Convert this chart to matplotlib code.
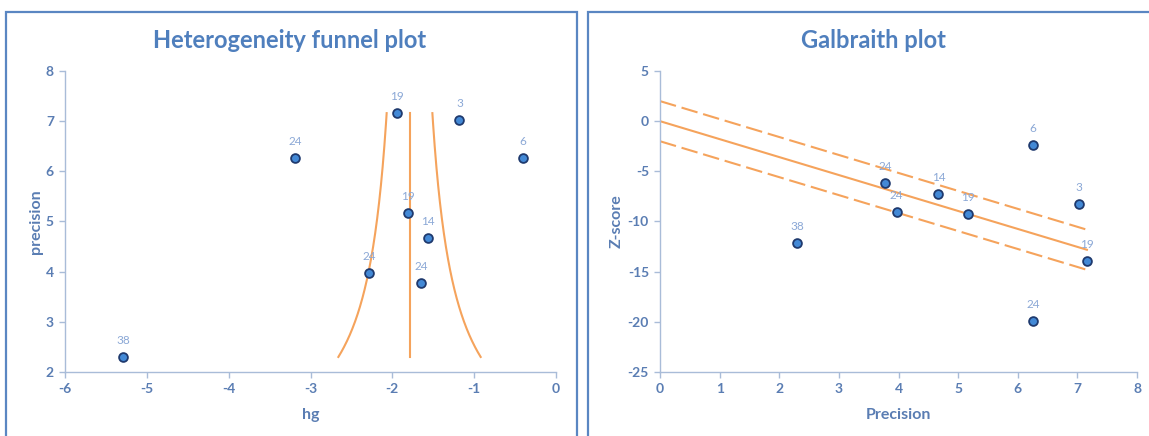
import numpy as np
import matplotlib
matplotlib.use("Agg")
import matplotlib.pyplot as plt
from matplotlib.patches import Rectangle

plt.rcParams['font.family'] = ['Lato', 'DejaVu Sans']
plt.rcParams['axes.unicode_minus'] = False

# ---- data ----
labels = ["38", "24", "19", "3", "6", "19", "14", "24", "24"]
hg = [-5.29, -3.19, -1.94, -1.18, -0.40, -1.81, -1.56, -2.28, -1.65]
precision = [2.30, 6.26, 7.16, 7.02, 6.26, 5.17, 4.67, 3.97, 3.77]
zscore = [-12.15, -19.95, -13.9, -8.3, -2.4, -9.3, -7.25, -9.05, -6.2]

pooled = -1.79      # pooled estimate (slope of Galbraith line)
zcrit = 2.0         # band half-width
prec_range = (2.30, 7.16)

left_xticks = [-6, -5, -4, -3, -2, -1, 0]
left_yticks = [2, 3, 4, 5, 6, 7, 8]
right_xticks = [0, 1, 2, 3, 4, 5, 6, 7, 8]
right_yticks = [5, 0, -5, -10, -15, -20, -25]

# ---- style ----
W, H = 1149, 436
fig = plt.figure(figsize=(W / 100, H / 100), dpi=100)
fig.patch.set_facecolor('white')

border_c = '#5A86C2'
title_c = '#4F7FBD'
tick_c = '#5A7DB3'
spine_c = '#A9BCD8'
lab_c = '#8BA8D6'
orange = '#F5A35C'
mface = '#4389D6'
medge = '#1F3A6E'

for x0, x1 in [(6, 577), (588, 1160)]:
    fig.patches.append(Rectangle((x0 / W, -0.1), (x1 - x0) / W, 1.1 - 12 / H,
                                 transform=fig.transFigure, fill=False,
                                 edgecolor=border_c, linewidth=1.6))

ax1 = fig.add_axes([65 / W, 1 - 372 / H, (556 - 65) / W, (372 - 71) / H])
ax2 = fig.add_axes([660 / W, 1 - 372 / H, (1137 - 660) / W, (372 - 71) / H])

def style(ax, xt, yt):
    for s in ['top', 'right']:
        ax.spines[s].set_visible(False)
    for s in ['left', 'bottom']:
        ax.spines[s].set_color(spine_c)
        ax.spines[s].set_linewidth(1.0)
    ax.set_xticks(xt, labels=[str(v) for v in xt], fontweight='bold')
    ax.set_yticks(yt, labels=[str(v) for v in yt], fontweight='bold')
    ax.tick_params(axis='both', colors=spine_c, length=4, width=1.0,
                   labelcolor=tick_c, labelsize=10, pad=4)

# ---- left: heterogeneity funnel ----
p = np.linspace(prec_range[0], prec_range[1], 200)
ax1.plot(pooled - zcrit / p, p, color=orange, lw=1.5)
ax1.plot(pooled + zcrit / p, p, color=orange, lw=1.5)
ax1.plot([pooled, pooled], prec_range, color=orange, lw=1.5)
ax1.scatter(hg, precision, s=40, facecolor=mface, edgecolor=medge, linewidth=1.3, zorder=3)
for x, y, t in zip(hg, precision, labels):
    ax1.annotate(t, (x, y), xytext=(0, 8), textcoords='offset points',
                 ha='center', va='bottom', fontsize=8.5, color=lab_c)
ax1.set_xlim(-6, 0)
ax1.set_ylim(2, 8)
style(ax1, left_xticks, left_yticks)
ax1.set_xlabel('hg', fontsize=11.5, fontweight='bold', color=tick_c, labelpad=9)
ax1.set_ylabel('precision', fontsize=11.5, fontweight='bold', color=tick_c, labelpad=2)
fig.text(290 / W, 1 - 40 / H, 'Heterogeneity funnel plot', ha='center', va='center',
         fontsize=17, fontweight='bold', color=title_c)

# ---- right: Galbraith ----
xg = np.array([0, prec_range[1]])
ax2.plot(xg, pooled * xg, color=orange, lw=1.5)
ax2.plot(xg, pooled * xg + zcrit, color=orange, lw=1.5, dashes=(8, 2.8))
ax2.plot(xg, pooled * xg - zcrit, color=orange, lw=1.5, dashes=(8, 2.8))
ax2.scatter(precision, zscore, s=40, facecolor=mface, edgecolor=medge, linewidth=1.3, zorder=3)
for x, y, t in zip(precision, zscore, labels):
    ax2.annotate(t, (x, y), xytext=(0, 8), textcoords='offset points',
                 ha='center', va='bottom', fontsize=8.5, color=lab_c)
ax2.set_xlim(0, 8)
ax2.set_ylim(-25, 5)
style(ax2, right_xticks, right_yticks)
ax2.set_xlabel('Precision', fontsize=11.5, fontweight='bold', color=tick_c, labelpad=9)
ax2.set_ylabel('Z-score', fontsize=11.5, fontweight='bold', color=tick_c, labelpad=3)
fig.text(873 / W, 1 - 40 / H, 'Galbraith plot', ha='center', va='center',
         fontsize=17, fontweight='bold', color=title_c)

fig.savefig('out.png', dpi=100)
